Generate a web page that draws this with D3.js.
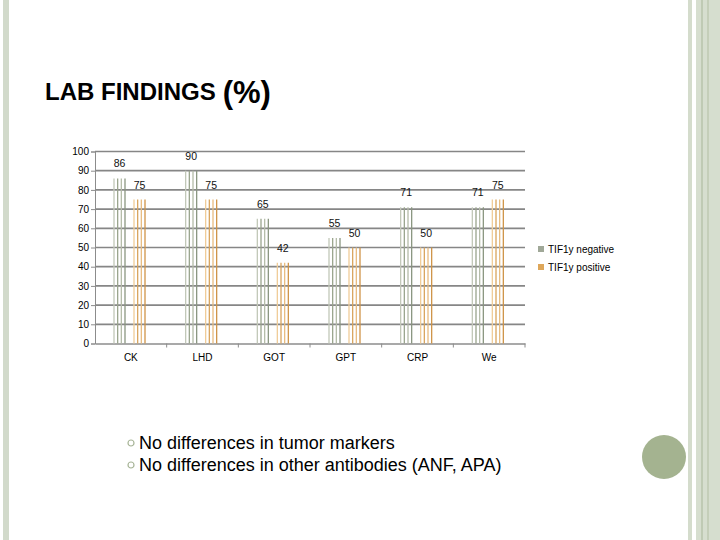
<!DOCTYPE html>
<html>
<head>
<meta charset="utf-8">
<script src="https://cdn.jsdelivr.net/npm/d3@7"></script>
<style>
  body { margin: 0; background: #fff; }
  svg { display: block; font-family: Arial, "Liberation Sans", sans-serif; }
</style>
</head>
<body>
<div class="chart"></div>
<script>
var categories = ['CK', 'LHD', 'GOT', 'GPT', 'CRP', 'We'];
var seriesNames = ['TIF1y negative', 'TIF1y positive'];
var negative = [86, 90, 65, 55, 71, 71];
var positive = [75, 75, 42, 50, 50, 75];
var yTicks = [0, 10, 20, 30, 40, 50, 60, 70, 80, 90, 100];
var bullets = ['No differences in tumor markers', 'No differences in other antibodies (ANF, APA)'];

var W = 720, H = 540;
var margin = {top: 151.5, left: 95, right: 195, bottom: 196.5};
var width = W - margin.left - margin.right;
var height = H - margin.top - margin.bottom;

var svg = d3.select('.chart')
	.append('svg')
		.attr('width', W)
		.attr('height', H);

// slide decoration
svg.append('rect').attr('x', 3).attr('y', 0).attr('width', 6).attr('height', H).style('fill', '#d2dacb');
svg.append('rect').attr('x', 688).attr('y', 0).attr('width', 4).attr('height', H).style('fill', '#d4dccc');
svg.append('rect').attr('x', 696).attr('y', 0).attr('width', 24).attr('height', H).style('fill', '#d6decf');
svg.append('rect').attr('x', 701).attr('y', 0).attr('width', 2).attr('height', H).style('fill', '#bfcab4');
svg.append('rect').attr('x', 707).attr('y', 0).attr('width', 2).attr('height', H).style('fill', '#c4ceb9');
svg.append('circle').attr('cx', 664).attr('cy', 457).attr('r', 22).style('fill', '#a4b390');

// title
var title = svg.append('text').attr('x', 45).attr('y', 100).style('fill', '#000');
title.append('tspan').text('LAB FINDINGS').style('font-weight', 'bold').style('font-size', '24px');
title.append('tspan').text('(%)').style('font-size', '31px').style('font-weight', 'bold')
	.attr('dx', 7).attr('dy', 3);

var g = svg.append('g')
	.attr('transform', `translate(${margin.left}, ${margin.top})`);

var yScale = d3.scaleLinear()
	.domain([0, 100])
	.range([height, 0]);

var x0 = d3.scaleBand()
	.domain(categories)
	.range([0, width])
	.padding(0);

var x1 = d3.scaleBand()
	.domain(seriesNames)
	.range([19, 50])
	.paddingInner(0.45);

// gridlines
g.selectAll('.grid')
	.data(yTicks.filter(d => d > 0))
	.enter()
	.append('line')
		.attr('x1', 0)
		.attr('x2', width)
		.attr('y1', d => yScale(d))
		.attr('y2', d => yScale(d))
		.style('stroke', '#868686')
		.style('stroke-width', 1.7);

var yAxis = d3.axisLeft(yScale).tickValues(yTicks).tickSize(4).tickPadding(2);
var ya = g.append('g').call(yAxis);
ya.select('.domain').style('stroke', '#8c8c8c');
ya.selectAll('.tick line').style('stroke', '#8c8c8c');
ya.selectAll('text').style('font-size', '10px').style('fill', '#000')
	.style('font-family', 'Arial, "Liberation Sans", sans-serif');

var xAxis = d3.axisBottom(x0).tickSize(0).tickPadding(10);
var xa = g.append('g').attr('transform', `translate(0, ${height})`).call(xAxis);
xa.select('.domain').style('stroke', '#8c8c8c').style('stroke-width', 1.4);
xa.selectAll('text').style('font-size', '10px').style('fill', '#000')
	.style('font-family', 'Arial, "Liberation Sans", sans-serif');

// boundary ticks
g.selectAll('.btick')
	.data(categories.map(c => x0(c) + x0.step()))
	.enter()
	.append('line')
		.attr('x1', d => d).attr('x2', d => d)
		.attr('y1', height).attr('y2', height + 4)
		.style('stroke', '#8c8c8c');

// bars drawn as thin vertical stripes
var rows = [];
categories.forEach(function(c, i) {
	rows.push({cat: c, s: seriesNames[0], v: negative[i]});
	rows.push({cat: c, s: seriesNames[1], v: positive[i]});
});

var stripeCols = {
	'TIF1y negative': ['#c2c8b8', '#9aa58d', '#b4bca8', '#8a9680'],
	'TIF1y positive': ['#f0cc98', '#d9a55e', '#e8bc80', '#cf9448']
};
var nStripes = 4;

var bars = g.selectAll('.bar')
	.data(rows)
	.enter()
	.append('g')
		.attr('transform', d => `translate(${x0(d.cat) + x1(d.s)}, 0)`);

bars.selectAll('line')
	.data(d => d3.range(nStripes).map(k => ({k: k, d: d})))
	.enter()
	.append('line')
		.attr('x1', o => o.k * x1.bandwidth() / (nStripes - 1))
		.attr('x2', o => o.k * x1.bandwidth() / (nStripes - 1))
		.attr('y1', height)
		.attr('y2', o => yScale(o.d.v))
		.style('stroke', o => stripeCols[o.d.s][o.k])
		.style('stroke-width', 1.3);

bars.append('text')
	.attr('x', x1.bandwidth() / 2)
	.attr('y', d => yScale(d.v) - 11)
	.attr('text-anchor', 'middle')
	.style('font-size', '10.5px')
	.style('fill', '#111')
	.text(d => d.v);

// legend
var legendCols = ['#a0a898', '#dea75a'];
var legend = svg.selectAll('.legend')
	.data(seriesNames)
	.enter()
	.append('g')
		.attr('transform', (d, i) => `translate(538, ${249 + i * 18})`);
legend.append('rect').attr('x', 0).attr('y', -3).attr('width', 6).attr('height', 6)
	.style('fill', (d, i) => legendCols[i]);
legend.append('text').attr('x', 10).attr('y', 3.5).style('font-size', '10px').text(d => d);

// bullet points
var bl = svg.selectAll('.bl')
	.data(bullets)
	.enter()
	.append('g')
		.attr('transform', (d, i) => `translate(131, ${443 + i * 22})`);
bl.append('circle').attr('r', 3).style('fill', 'none').style('stroke', '#a8b598').style('stroke-width', 1.2);
bl.append('text').attr('x', 8).attr('y', 6).style('font-size', '18px').text(d => d);
</script>
</body>
</html>
